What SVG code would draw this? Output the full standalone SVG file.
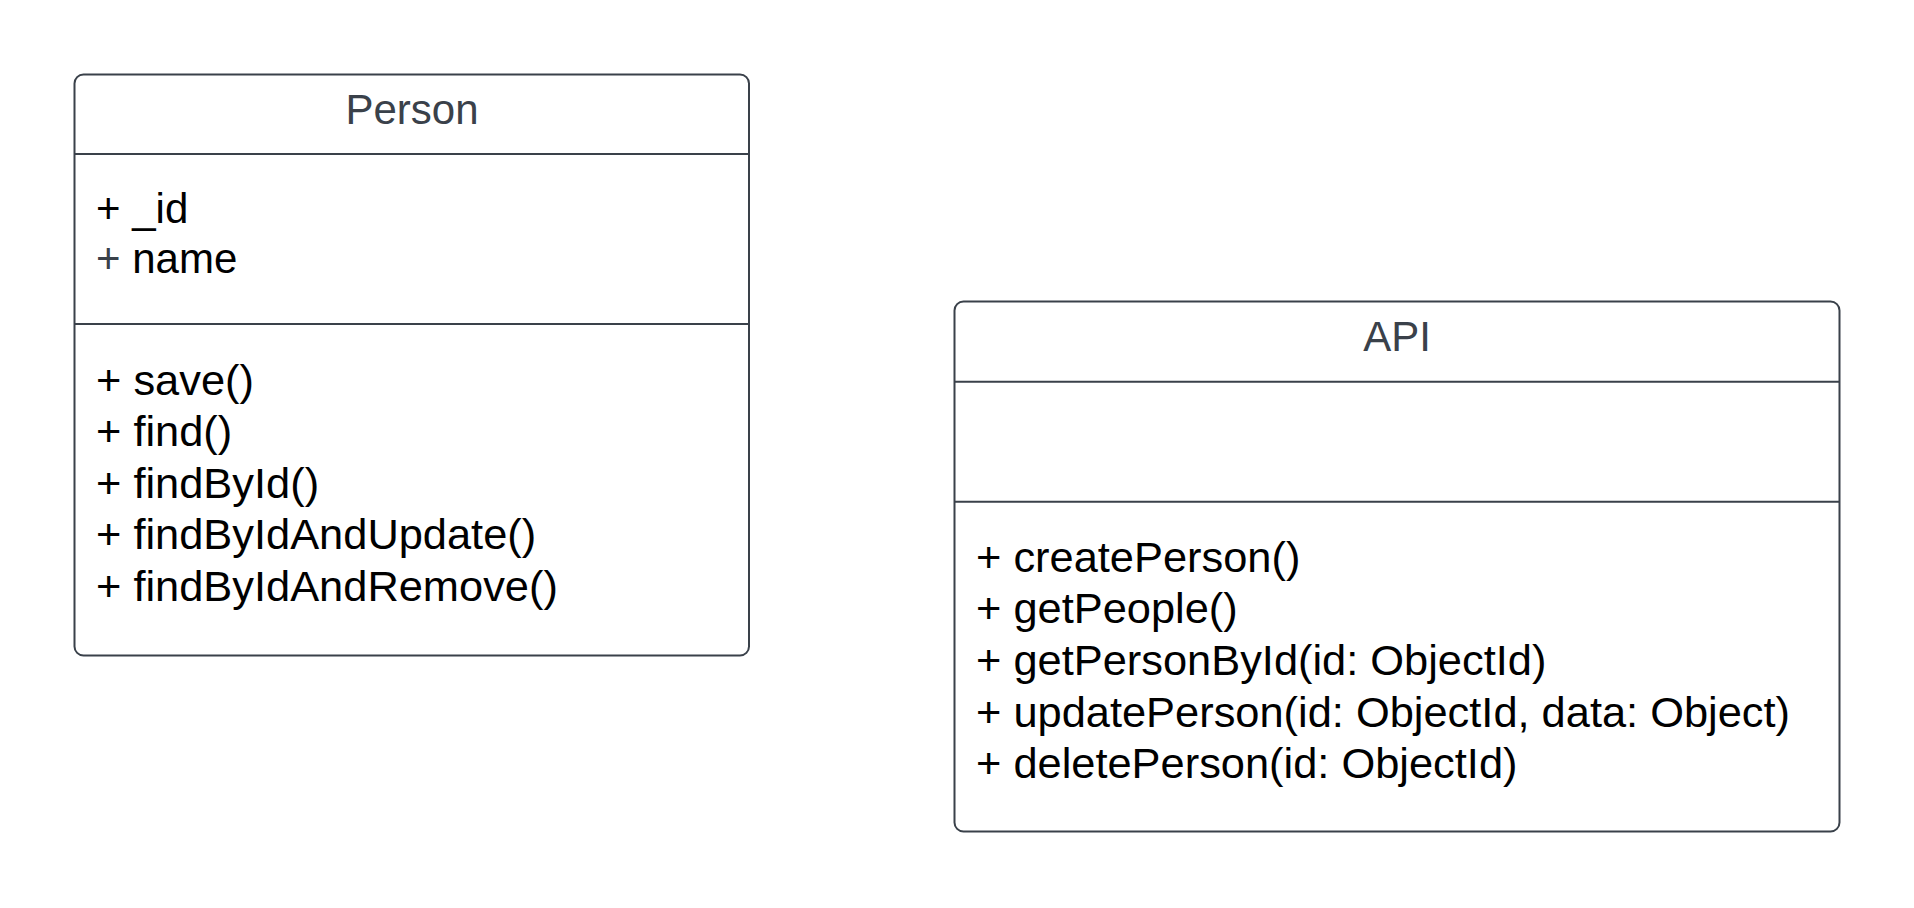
<svg xmlns="http://www.w3.org/2000/svg" width="1914" height="908" viewBox="0 0 1914 908">
<style>
.box{fill:#ffffff;stroke:#3a414a;stroke-width:2}
.sep{stroke:#3a414a;stroke-width:2}
.title{font-family:"Liberation Sans",Arial,sans-serif;font-size:42px;fill:#3a414a;text-anchor:middle}
.item{font-family:"Liberation Sans",Arial,sans-serif;font-size:43.4px;fill:#000000}
.attr{font-size:42px}
.grey{fill:#3a414a}
</style>
<rect width="1914" height="908" fill="#ffffff"/>
<g id="connectors"></g>
<g id="person">
<rect class="box" x="74.5" y="74.5" width="674.5" height="581" rx="9" ry="9"/>
<line class="sep" x1="74.5" y1="154" x2="749" y2="154"/>
<line class="sep" x1="74.5" y1="324" x2="749" y2="324"/>
<text class="title" x="412" y="123.5">Person</text>
<text class="item attr" x="96" y="223">+ _id</text>
<text class="item attr" x="96" y="272.5"><tspan class="grey">+</tspan> name</text>
<text class="item" x="96" y="394.5">+ save()</text>
<text class="item" x="96" y="446">+ find()</text>
<text class="item" x="96" y="497.5">+ findById()</text>
<text class="item" x="96" y="549">+ findByIdAndUpdate()</text>
<text class="item" x="96" y="600.5">+ findByIdAndRemove()</text>
</g>
<g id="api">
<rect class="box" x="954.5" y="301.5" width="885" height="530" rx="9" ry="9"/>
<line class="sep" x1="954.5" y1="381.7" x2="1839.5" y2="381.7"/>
<line class="sep" x1="954.5" y1="501.7" x2="1839.5" y2="501.7"/>
<text class="title" x="1397" y="351">API</text>
<text class="item" x="976" y="571.7">+ createPerson()</text>
<text class="item" x="976" y="623.3">+ getPeople()</text>
<text class="item" x="976" y="675">+ getPersonById(id: ObjectId)</text>
<text class="item" x="976" y="726.7">+ updatePerson(id: ObjectId, data: Object)</text>
<text class="item" x="976" y="778.3">+ deletePerson(id: ObjectId)</text>
</g>
</svg>
